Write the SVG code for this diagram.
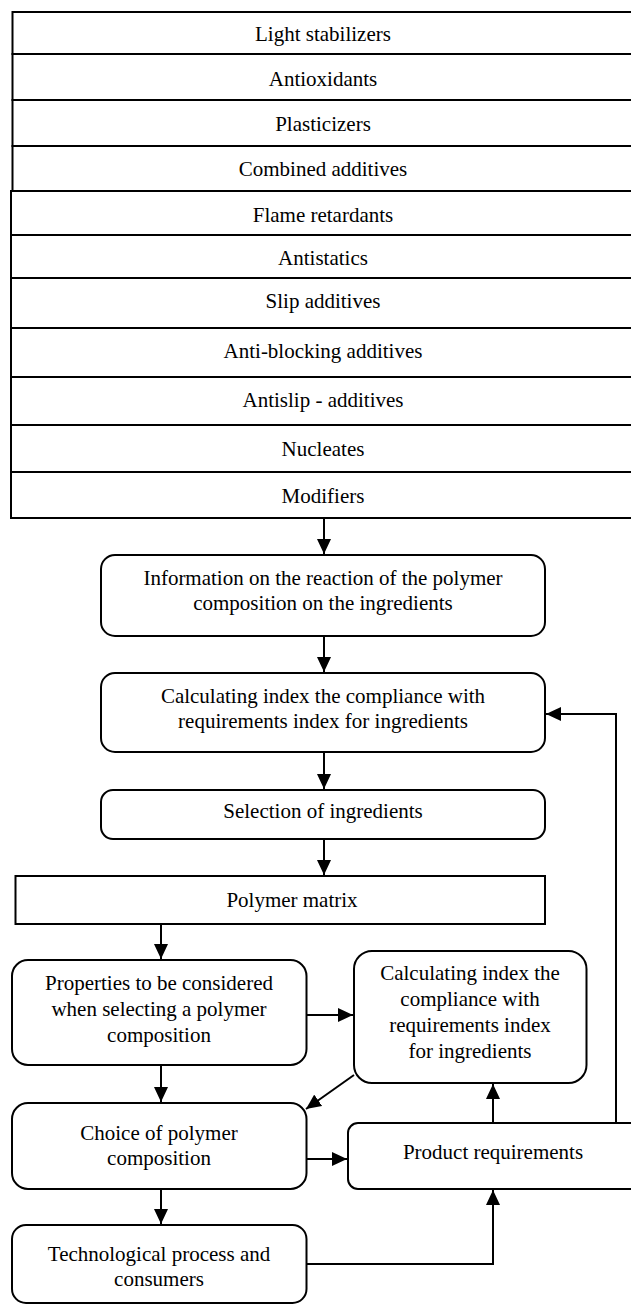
<svg xmlns="http://www.w3.org/2000/svg" width="631" height="1305" viewBox="0 0 631 1305">
<style>
.b{fill:#fff;stroke:#000;stroke-width:2}
.t{font-family:"Liberation Serif","Times New Roman",serif;font-size:21px;fill:#000;text-anchor:middle}
.c{fill:none;stroke:#000;stroke-width:2}
</style>
<defs>
<marker id="ah" markerUnits="userSpaceOnUse" markerWidth="16" markerHeight="14" refX="15" refY="7" orient="auto">
<path d="M0,0 L15,7 L0,14 z" fill="#000"/>
</marker>
</defs>
<rect width="631" height="1305" fill="#fff"/>
<g id="list">
<g id="r1"><rect class="b" x="12.5" y="12" width="630" height="42"/><text class="t" x="323" y="41">Light stabilizers</text></g>
<g id="r2"><rect class="b" x="12.5" y="54" width="630" height="46"/><text class="t" x="323" y="86">Antioxidants</text></g>
<g id="r3"><rect class="b" x="12.5" y="100" width="630" height="46"/><text class="t" x="323" y="131">Plasticizers</text></g>
<g id="r4"><rect class="b" x="12.5" y="146" width="630" height="45"/><text class="t" x="323" y="176">Combined additives</text></g>
<g id="r5"><rect class="b" x="11" y="191" width="630" height="44"/><text class="t" x="323" y="222">Flame retardants</text></g>
<g id="r6"><rect class="b" x="11" y="235" width="630" height="43"/><text class="t" x="323" y="265">Antistatics</text></g>
<g id="r7"><rect class="b" x="11" y="278" width="630" height="50"/><text class="t" x="323" y="308">Slip additives</text></g>
<g id="r8"><rect class="b" x="11" y="328" width="630" height="49"/><text class="t" x="323" y="358">Anti-blocking additives</text></g>
<g id="r9"><rect class="b" x="11" y="377" width="630" height="48"/><text class="t" x="323" y="407">Antislip - additives</text></g>
<g id="r10"><rect class="b" x="11" y="425" width="630" height="47"/><text class="t" x="323" y="456">Nucleates</text></g>
<g id="r11"><rect class="b" x="11" y="472" width="630" height="46"/><text class="t" x="323" y="503">Modifiers</text></g>
</g>
<g id="info"><rect class="b" x="101" y="555" width="444" height="81" rx="14"/><text class="t" x="323" y="585">Information on the reaction of the polymer</text><text class="t" x="323" y="610">composition on the ingredients</text></g>
<g id="calc1"><rect class="b" x="101" y="673" width="444" height="79" rx="14"/><text class="t" x="323" y="703">Calculating index the compliance with</text><text class="t" x="323" y="728">requirements index for ingredients</text></g>
<g id="select"><rect class="b" x="101" y="790" width="444" height="49" rx="12"/><text class="t" x="323" y="818">Selection of ingredients</text></g>
<g id="matrix"><rect class="b" x="15.5" y="876" width="529.5" height="48"/><text class="t" x="292" y="907">Polymer matrix</text></g>
<g id="props"><rect class="b" x="12" y="960" width="294.5" height="105" rx="16"/><text class="t" x="159" y="990">Properties to be considered</text><text class="t" x="159" y="1016">when selecting a polymer</text><text class="t" x="159" y="1042">composition</text></g>
<g id="calc2"><rect class="b" x="354" y="951" width="232.5" height="132" rx="18"/><text class="t" x="470" y="980">Calculating index the</text><text class="t" x="470" y="1006">compliance with</text><text class="t" x="470" y="1032">requirements index</text><text class="t" x="470" y="1058">for ingredients</text></g>
<g id="choice"><rect class="b" x="12" y="1103" width="294.5" height="86" rx="16"/><text class="t" x="159" y="1140">Choice of polymer</text><text class="t" x="159" y="1165">composition</text></g>
<g id="product"><rect class="b" x="348" y="1123" width="300" height="66" rx="10"/><text class="t" x="493" y="1159">Product requirements</text></g>
<g id="tech"><rect class="b" x="12" y="1225" width="294.5" height="78" rx="14"/><text class="t" x="159" y="1261">Technological process and</text><text class="t" x="159" y="1286">consumers</text></g>
<g id="connectors">
<path class="c" d="M324,518 V554" marker-end="url(#ah)"/>
<path class="c" d="M324,636 V672" marker-end="url(#ah)"/>
<path class="c" d="M324,752 V789" marker-end="url(#ah)"/>
<path class="c" d="M324,839 V875" marker-end="url(#ah)"/>
<path class="c" d="M161,924 V959" marker-end="url(#ah)"/>
<path class="c" d="M306.5,1015 H353" marker-end="url(#ah)"/>
<path class="c" d="M354,1075 L306,1109" marker-end="url(#ah)"/>
<path class="c" d="M161,1065 V1102" marker-end="url(#ah)"/>
<path class="c" d="M306.5,1159 H347" marker-end="url(#ah)"/>
<path class="c" d="M493,1123 V1084" marker-end="url(#ah)"/>
<path class="c" d="M161,1189 V1224" marker-end="url(#ah)"/>
<path class="c" d="M306.5,1264 H493 V1190" marker-end="url(#ah)"/>
<path class="c" d="M616,1123 V714 H546" marker-end="url(#ah)"/>
</g>
</svg>
